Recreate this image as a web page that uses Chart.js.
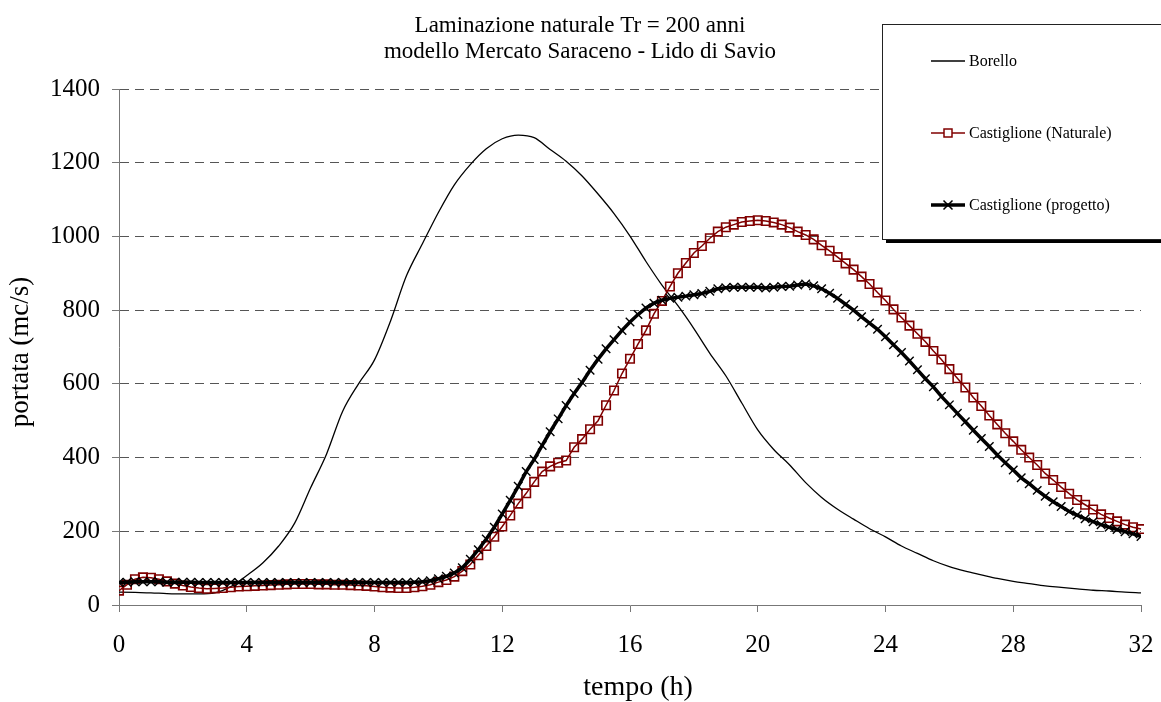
<!DOCTYPE html>
<html>
<head>
<meta charset="utf-8">
<script src="https://cdn.jsdelivr.net/npm/chart.js@4/dist/chart.umd.min.js"></script>
<style>
  html, body { margin: 0; padding: 0; background: #fff; }
  #wrap { width: 1161px; height: 702px; position: relative; }
</style>
</head>
<body>
<div id="wrap"><canvas id="grafico" width="1161" height="702"></canvas></div>
<script>
// titolo e nomi delle serie
const titolo = ['Laminazione naturale Tr = 200 anni', 'modello Mercato Saraceno - Lido di Savio'];
const serie = ['Borello', 'Castiglione (Naturale)', 'Castiglione (progetto)'];
const etichettaX = 'tempo (h)';
const etichettaY = 'portata (mc/s)';
const tickX = [0, 4, 8, 12, 16, 20, 24, 28, 32];

// Borello: un valore ogni 0.5 h (0 -> 32 h)
const tempoBorello = [
  0, 0.5, 1, 1.5, 2, 2.5, 3, 3.5,
  4, 4.5, 5, 5.5, 6, 6.5, 7, 7.5,
  8, 8.5, 9, 9.5, 10, 10.5, 11, 11.5,
  12, 12.5, 13, 13.5, 14, 14.5, 15, 15.5,
  16, 16.5, 17, 17.5, 18, 18.5, 19, 19.5,
  20, 20.5, 21, 21.5, 22, 22.5, 23, 23.5,
  24, 24.5, 25, 25.5, 26, 26.5, 27, 27.5,
  28, 28.5, 29, 29.5, 30, 30.5, 31, 31.5,
  32
];
const portataBorello = [
  35, 34, 33, 31, 30, 30, 33, 50,
  80, 114, 160, 222, 318, 410, 525, 600,
  665, 770, 893, 980, 1065, 1140, 1195, 1238,
  1265, 1275, 1268, 1236, 1204, 1164, 1115, 1062,
  1001, 932, 868, 812, 750, 683, 622, 548,
  475, 422, 380, 332, 292, 260, 233, 207,
  185, 160, 140, 120, 104, 92, 82, 72,
  64, 58, 52, 48, 44, 40, 38, 35,
  33
];

// Castiglione: un valore ogni 0.25 h (0 -> 32 h, piu' l'ultimo tratto della naturale)
const tempo = [];
for (let i = 0; i <= 129; i++) tempo.push(i * 0.25);

const portataNaturale = [
  39, 55, 70, 75, 74, 70, 64, 58,
  53, 49, 46, 44, 45, 46, 48, 50,
  51, 52, 53, 54, 55, 56, 57, 57,
  57, 56, 56, 55, 55, 54, 53, 52,
  50, 48, 47, 46, 46, 48, 51, 55,
  62, 68, 77, 92, 110, 135, 160, 185,
  213, 243, 275, 303, 334, 362, 376, 386,
  392, 428, 450, 477, 500, 542, 582, 628,
  668, 708, 745, 790, 825, 864, 900, 928,
  955, 974, 995, 1013, 1025, 1032, 1039, 1042,
  1044, 1042, 1038, 1032, 1024, 1013, 1004, 992,
  976, 961, 944, 927, 910, 891, 871, 848,
  826, 802, 780, 758, 736, 714, 689, 666,
  640, 615, 590, 563, 540, 514, 490, 466,
  444, 421, 400, 380, 357, 339, 320, 302,
  285, 272, 259, 246, 236, 227, 218, 211,
  206, 420
];
const portataProgetto = [
  61, 62, 63, 63, 63, 63, 62, 62,
  62, 62, 61, 61, 61, 61, 61, 61,
  61, 61, 61, 61, 61, 61, 61, 61,
  61, 61, 61, 61, 61, 61, 61, 61,
  61, 61, 61, 61, 61, 62, 63, 66,
  71, 78, 87, 101, 124, 150, 179, 211,
  247, 284, 322, 362, 395, 433, 470, 505,
  541, 574, 604, 637, 667, 695, 720, 745,
  768, 788, 806, 819, 827, 832, 835, 838,
  842, 845, 851, 858, 861, 862, 862, 862,
  862, 860, 862, 864, 865, 868, 871, 866,
  858, 846, 832, 816, 800, 782, 765, 748,
  728, 706, 685, 662, 638, 614, 592, 566,
  543, 520, 497, 474, 452, 430, 407, 386,
  366, 345, 329, 311, 295, 280, 267, 254,
  244, 234, 226, 218, 211, 205, 199, 193,
  186
];

const FONT = '"Liberation Serif", "Times New Roman", serif';
const ROSSO = '#800000';

function punti(xs, ys) {
  return ys.map((v, i) => ({ x: xs[i], y: v }));
}

// titolo, etichette degli assi e legenda disegnati a mano
const decorazioni = {
  id: 'decorazioni',
  afterDraw(chart) {
    const ctx = chart.ctx;
    ctx.save();
    ctx.fillStyle = '#000';
    ctx.textAlign = 'center';
    ctx.textBaseline = 'alphabetic';
    ctx.font = '23px ' + FONT;
    ctx.fillText(titolo[0], 580, 32);
    ctx.fillText(titolo[1], 580, 58);

    ctx.font = '28px ' + FONT;
    ctx.fillText(etichettaX, 638, 695);
    ctx.font = '27px ' + FONT;
    ctx.save();
    ctx.translate(28, 352);
    ctx.rotate(-Math.PI / 2);
    ctx.fillText(etichettaY, 0, 0);
    ctx.restore();

    // riquadro legenda con ombra
    const bx = 882, by = 24, bw = 300, bh = 215;
    ctx.fillStyle = '#000';
    ctx.fillRect(bx + 4, by + 4, bw, bh);
    ctx.fillStyle = '#fff';
    ctx.fillRect(bx, by, bw, bh);
    ctx.strokeStyle = '#222';
    ctx.lineWidth = 1;
    ctx.strokeRect(bx + 0.5, by + 0.5, bw, bh);

    const righe = [61, 133, 205];
    const x0 = 931, x1 = 965, xm = 948;
    // Borello
    ctx.strokeStyle = '#000';
    ctx.lineWidth = 1.3;
    ctx.beginPath(); ctx.moveTo(x0, righe[0]); ctx.lineTo(x1, righe[0]); ctx.stroke();
    // Naturale
    ctx.strokeStyle = ROSSO;
    ctx.lineWidth = 1.5;
    ctx.beginPath(); ctx.moveTo(x0, righe[1]); ctx.lineTo(x1, righe[1]); ctx.stroke();
    ctx.fillStyle = '#fff';
    ctx.fillRect(xm - 4, righe[1] - 4, 8, 8);
    ctx.strokeRect(xm - 4, righe[1] - 4, 8, 8);
    // Progetto
    ctx.strokeStyle = '#000';
    ctx.lineWidth = 3.5;
    ctx.beginPath(); ctx.moveTo(x0, righe[2]); ctx.lineTo(x1, righe[2]); ctx.stroke();
    ctx.lineWidth = 1.5;
    ctx.beginPath();
    ctx.moveTo(xm - 4.5, righe[2] - 4.5); ctx.lineTo(xm + 4.5, righe[2] + 4.5);
    ctx.moveTo(xm - 4.5, righe[2] + 4.5); ctx.lineTo(xm + 4.5, righe[2] - 4.5);
    ctx.stroke();

    ctx.fillStyle = '#000';
    ctx.textAlign = 'left';
    ctx.textBaseline = 'middle';
    ctx.font = '16px ' + FONT;
    serie.forEach((s, i) => ctx.fillText(s, 969, righe[i] + 1));
    ctx.restore();
  }
};

const ctx = document.getElementById('grafico').getContext('2d');
new Chart(ctx, {
  type: 'line',
  data: {
    datasets: [
      {
        label: serie[0],
        data: punti(tempoBorello, portataBorello),
        borderColor: '#000',
        borderWidth: 1.3,
        pointRadius: 0,
        cubicInterpolationMode: 'monotone',
        order: 3
      },
      {
        label: serie[1],
        data: punti(tempo, portataNaturale),
        borderColor: ROSSO,
        borderWidth: 1.5,
        pointStyle: 'rect',
        pointRadius: portataNaturale.map((v, i) => i < 129 ? 6 : 0),
        pointBorderWidth: 1.6,
        pointBorderColor: ROSSO,
        pointBackgroundColor: 'rgba(255,255,255,0)',
        clip: { left: 0, top: 0, right: 3, bottom: 0 },
        order: 2
      },
      {
        label: serie[2],
        data: punti(tempo, portataProgetto),
        borderColor: '#000',
        borderWidth: 3.5,
        pointStyle: 'crossRot',
        pointRadius: 6,
        pointBorderWidth: 1.4,
        pointBorderColor: '#000',
        order: 1
      }
    ]
  },
  options: {
    responsive: false,
    animation: false,
    events: [],
    layout: { padding: { top: 89, right: 20, left: 0, bottom: 0 } },
    plugins: {
      legend: { display: false },
      title: { display: false },
      tooltip: { enabled: false }
    },
    scales: {
      x: {
        type: 'linear',
        min: 0,
        max: 32,
        afterFit: s => { s.height = 97; s.paddingLeft = 0; s.paddingRight = 0; },
        afterBuildTicks: s => { s.ticks = tickX.map(v => ({ value: v })); },
        border: { color: '#777', width: 1 },
        grid: { drawOnChartArea: false, tickLength: 7, color: '#777' },
        ticks: { color: '#000', padding: 18, maxRotation: 0, callback: v => String(v), font: { family: FONT, size: 25 } }
      },
      y: {
        min: 0,
        max: 1400,
        afterFit: s => { s.width = 119; },
        border: { color: '#777', width: 1, dash: [9, 6] },
        grid: {
          tickLength: 7,
          color: c => c.tick && c.tick.value === 0 ? 'rgba(0,0,0,0)' : '#555',
          tickColor: '#777',
          tickBorderDash: []
        },
        ticks: { stepSize: 200, color: '#000', padding: 12, callback: v => String(v), font: { family: FONT, size: 25 } }
      }
    }
  },
  plugins: [decorazioni]
});
</script>
</body>
</html>
